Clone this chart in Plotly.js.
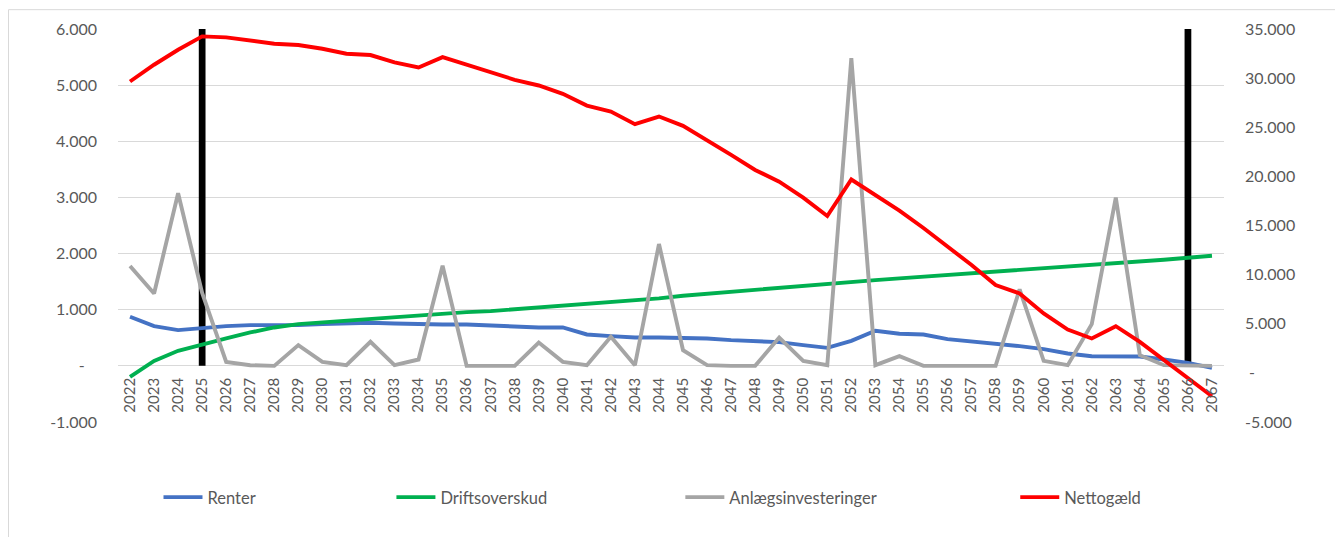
<!DOCTYPE html>
<html><head><meta charset="utf-8">
<script src="https://cdn.plot.ly/plotly-3.0.1.min.js"></script>
<style>html,body{margin:0;padding:0;background:#fff}#chart{width:1335px;height:537px}</style>
</head><body><div id="chart"></div>
<script>
const years = ['2022','2023','2024','2025','2026','2027','2028','2029','2030','2031','2032',
 '2033','2034','2035','2036','2037','2038','2039','2040','2041','2042','2043','2044',
 '2045','2046','2047','2048','2049','2050','2051','2052','2053','2054','2055',
 '2056','2057','2058','2059','2060','2061','2062','2063','2064','2065','2066','2067'];
const renter = [874,707,636,678,707,725,725,725,743,755,767,
 755,743,737,737,719,702,684,684,559,529,505,505,
 505,488,458,434,422,369,321,446,624,571,559,
 476,440,398,351,297,220,172,166,166,113,54,-36];
const driftsoverskud = [-196,89,268,386,488,595,684,743,773,815,850,
 878,910,939,957,975,1005,1040,1076,1106,1136,1171,1201,
 1249,1284,1320,1361,1397,1439,1468,1498,1528,1558,1587,
 1617,1647,1677,1706,1736,1766,1795,1825,1855,1891,1926,1962];
const anlaeg = [1778,1290,3074,1300,71,12,0,369,71,12,428,
 12,113,1784,0,0,0,416,71,12,517,12,2170,
 279,12,0,0,505,89,12,5481,12,172,0,
 0,0,0,1361,89,12,743,2996,190,12,0,0];
const nettogaeld = [29658,31361,32890,34246,34150,33838,33500,33370,32990,32480,32350,
 31600,31085,32140,31360,30580,29830,29250,28400,27210,26600,25315,26090,
 25143,23715,22186,20657,19465,17834,15968,19678,18108,16508,14750,
 12840,10975,8935,8085,6045,4415,3500,4755,3155,1290,-580,-2380];
const markerYears = ['2025','2066'];
const markerValues = [6000,6000];
const leftTickVals = [-1000,0,1000,2000,3000,4000,5000,6000];
const leftTickText = ['-1.000','-\u00a0\u00a0\u00a0','1.000','2.000','3.000','4.000','5.000','6.000'];
const rightTickVals = [-5000,0,5000,10000,15000,20000,25000,30000,35000];
const rightTickText = ['-5.000','\u00a0-','5.000','10.000','15.000','20.000','25.000','30.000','35.000'];
const seriesNames = ['Renter','Driftsoverskud','Anlægsinvesteringer','Nettogæld'];

const W=1335,H=537;
const L=117.5, Rpx=1223.8, T=29.3, Bpx=421.7;
const PW=Rpx-L, PH=Bpx-T;
const px2x = p => (p-L)/PW;
const py2y = p => (Bpx-p)/PH;

const lw = 3.9;
const traces = [
 {type:'scatter', mode:'lines', name:seriesNames[0], x:years, y:renter, line:{color:'#4472C4', width:lw}, legend:'legend'},
 {type:'scatter', mode:'lines', name:seriesNames[1], x:years, y:driftsoverskud, line:{color:'#00B050', width:lw}, legend:'legend2'},
 {type:'scatter', mode:'lines', name:seriesNames[2], x:years, y:anlaeg, line:{color:'#A5A5A5', width:lw}, legend:'legend3'},
 {type:'scatter', mode:'lines', name:seriesNames[3], x:years, y:nettogaeld, yaxis:'y2', line:{color:'#FF0000', width:lw}, legend:'legend4'},
 {type:'bar', x:markerYears, y:markerValues, width:0.28, marker:{color:'#000000', line:{width:0}}, showlegend:false, hoverinfo:'skip'}
];
const legY = py2y(497);
const mkLeg = (p) => ({x:px2x(p), y:legY, xanchor:'left', yanchor:'middle', orientation:'h', itemwidth:39, bgcolor:'rgba(0,0,0,0)', borderwidth:0, font:{size:16.5, color:'#595959'}});
const layout = {
 width:W, height:H,
 margin:{l:L, r:W-Rpx, t:T, b:H-Bpx, pad:0},
 paper_bgcolor:'#ffffff', plot_bgcolor:'#ffffff',
 font:{family:'Lato, sans-serif', color:'#595959', size:15},
 xaxis:{type:'category', categoryorder:'array', categoryarray:years, anchor:'free', position:1/7, range:[-0.5,45.5], showgrid:false, showline:false, zeroline:false, tickangle:-90, ticks:'', tickfont:{size:15, color:'#595959'}, ticklabelstandoff:8},
 yaxis:{range:[-1000,6000], tickmode:'array', tickvals:leftTickVals, ticktext:leftTickText, showgrid:true, gridcolor:'#D9D9D9', gridwidth:1, zeroline:false, showline:false, ticks:'', ticklabelstandoff:20, tickfont:{size:16, color:'#595959'}},
 yaxis2:{overlaying:'y', side:'right', range:[-5000,35000], tickmode:'array', tickvals:rightTickVals, ticktext:rightTickText, showgrid:false, zeroline:false, showline:false, ticks:'', ticklabelstandoff:20, tickfont:{size:16, color:'#595959'}},
 showlegend:true,
 legend:mkLeg(158), legend2:mkLeg(391), legend3:mkLeg(680), legend4:mkLeg(1015),
 shapes:[
  {type:'line', xref:'paper', yref:'paper', x0:px2x(8), x1:px2x(1340), y0:py2y(10), y1:py2y(10), line:{color:'#D9D9D9', width:1}},
  {type:'line', xref:'paper', yref:'paper', x0:px2x(8), x1:px2x(8), y0:py2y(10), y1:py2y(540), line:{color:'#D9D9D9', width:1}}
 ]
};
Plotly.newPlot('chart', traces, layout, {staticPlot:true, displayModeBar:false});
</script></body></html>
